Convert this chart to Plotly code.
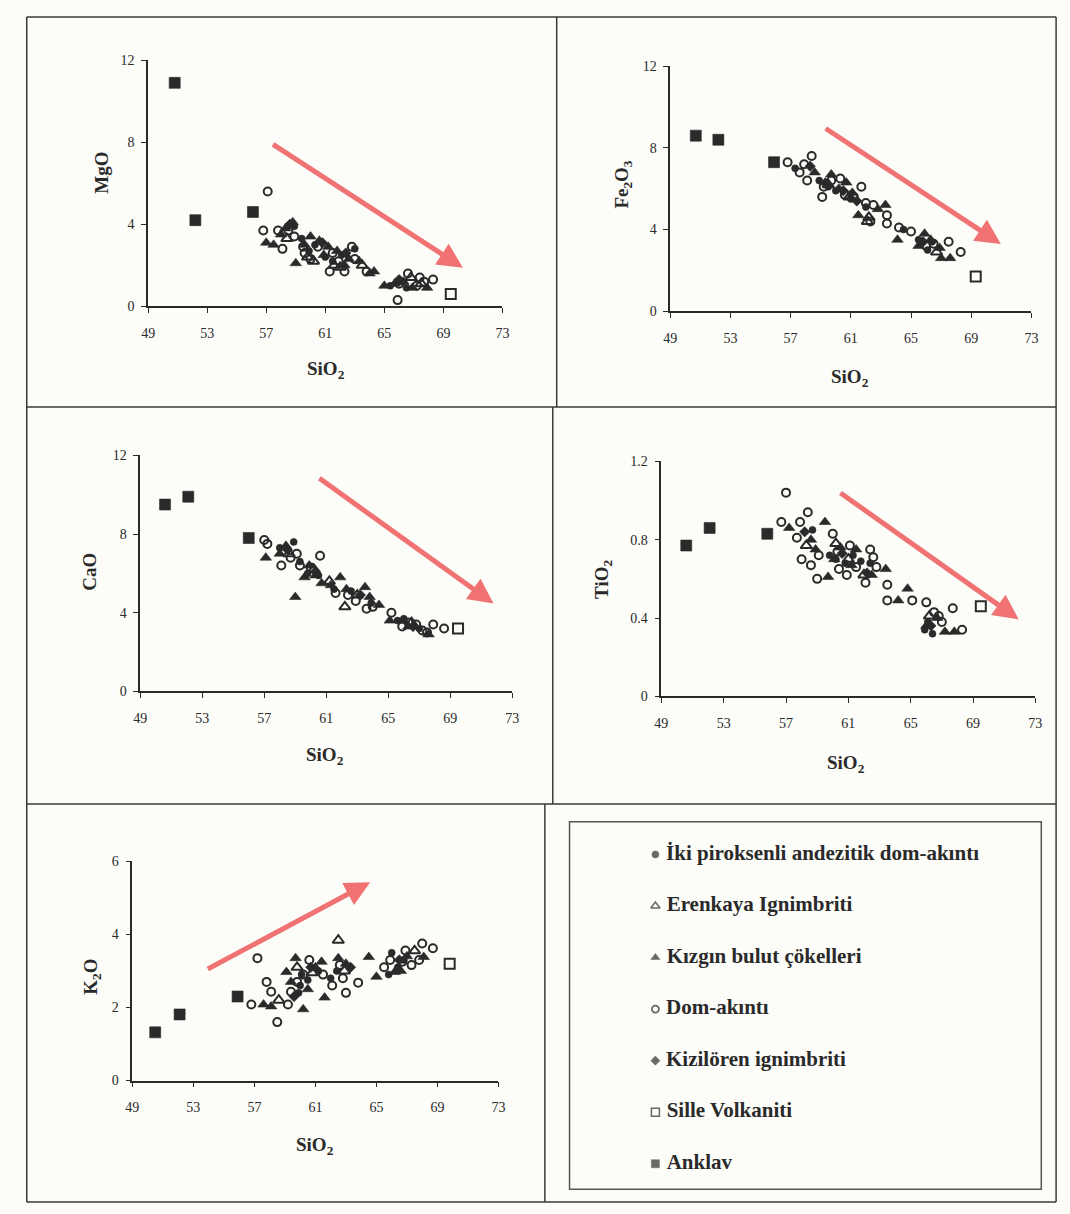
import plotly.graph_objects as go

W, H = 1070, 1214

SERIES = ["İki piroksenli andezitik dom-akıntı", "Erenkaya Ignimbriti", "Kızgın bulut çökelleri",
          "Dom-akıntı", "Kizilören ignimbriti", "Sille Volkaniti", "Anklav"]
SYMBOLS = ["circle", "triangle-up-open", "triangle-up", "circle-open", "diamond", "square-open", "square"]
SIZES = [7, 10, 10, 8, 8, 10, 11]

X_TICKS = [49, 53, 57, 61, 65, 69, 73]

# ---------------- MgO vs SiO2 ----------------
MGO_IKI = [(58.9, 3.9), (59.4, 3.3), (60.3, 3.0), (61.0, 2.4), (62.1, 2.5), (66.2, 1.2), (66.5, 0.9), (65.4, 1.0),
           (59.9, 2.7), (61.5, 2.2), (63.0, 2.8)]
MGO_EREN = [(59.8, 2.4), (61.6, 2.0), (62.0, 1.9), (63.5, 2.0), (66.8, 1.4), (67.5, 1.1), (58.4, 3.3), (60.2, 2.2)]
MGO_KIZGIN = [(57.0, 3.1), (57.5, 3.0), (59.0, 2.1), (60.0, 3.4), (61.2, 2.9), (62.6, 2.3), (63.3, 2.2), (64.3, 1.7),
              (65.0, 1.0), (65.7, 1.1), (66.9, 0.9), (67.9, 0.9), (58.8, 4.1), (58.3, 3.8), (60.6, 3.2), (61.8, 2.7),
              (58.0, 3.5), (59.6, 3.0), (60.9, 2.5), (62.3, 2.0), (64.0, 1.6), (66.3, 1.2)]
MGO_DOM = [(57.1, 5.6), (56.8, 3.7), (57.8, 3.7), (58.5, 3.7), (58.1, 2.8), (59.5, 2.9), (62.8, 2.9), (59.6, 2.6),
           (61.3, 1.7), (62.3, 1.7), (65.9, 0.3), (66.6, 1.6), (67.7, 1.2), (68.3, 1.3), (67.2, 1.0), (61.5, 2.6),
           (63.8, 1.7), (60.5, 2.9), (58.9, 3.4), (60.0, 2.3), (61.9, 2.2), (63.0, 2.3), (66.0, 1.1), (67.4, 1.4)]
MGO_KIZIL = [(58.6, 4.0), (60.8, 3.1), (62.4, 2.6), (66.0, 1.3)]
MGO_SILLE = [(69.5, 0.6)]
MGO_ANKLAV = [(50.8, 10.9), (52.2, 4.2), (56.1, 4.6)]

# ---------------- Fe2O3 vs SiO2 ----------------
FE_IKI = [(57.3, 7.0), (58.9, 6.4), (60.0, 5.9), (61.0, 5.5), (66.1, 3.0), (66.4, 3.4), (64.5, 4.0),
          (59.5, 6.1), (62.0, 5.1), (65.5, 3.5)]
FE_EREN = [(62.1, 4.4), (62.2, 4.6), (60.9, 5.6), (66.7, 2.9), (59.5, 6.2)]
FE_KIZGIN = [(61.5, 4.7), (64.1, 3.5), (63.3, 5.2), (59.7, 6.7), (60.7, 6.3), (65.9, 3.8), (67.0, 2.6), (67.6, 2.6),
             (65.5, 3.2), (58.6, 6.8), (59.3, 6.3), (60.2, 6.0), (61.1, 5.8), (62.8, 5.0), (66.3, 3.5), (66.9, 3.1)]
FE_DOM = [(56.8, 7.3), (58.4, 7.6), (57.6, 6.8), (58.1, 6.4), (59.1, 5.6), (60.3, 6.5), (61.7, 6.1), (62.5, 5.2),
          (63.4, 4.7), (63.4, 4.3), (62.3, 4.4), (65.0, 3.9), (67.5, 3.4), (68.3, 2.9), (66.5, 3.3), (59.2, 6.1),
          (61.2, 5.6), (57.9, 7.2), (59.7, 6.4), (60.6, 5.7), (62.0, 5.3), (64.2, 4.1), (66.0, 3.2)]
FE_KIZIL = [(58.3, 7.1), (60.5, 5.9), (61.4, 5.4), (65.8, 3.4)]
FE_SILLE = [(69.3, 1.7)]
FE_ANKLAV = [(50.7, 8.6), (52.2, 8.4), (55.9, 7.3)]

# ---------------- CaO vs SiO2 ----------------
CA_IKI = [(58.0, 7.3), (58.9, 7.6), (59.8, 6.0), (60.5, 5.9), (61.5, 5.2), (62.6, 5.1), (66.0, 3.7), (67.0, 3.2),
          (59.3, 6.6), (63.9, 4.5), (65.6, 3.6)]
CA_EREN = [(62.2, 4.3), (63.0, 4.9), (61.2, 5.6), (60.2, 6.2), (66.5, 3.5), (58.6, 7.0)]
CA_KIZGIN = [(57.1, 6.8), (59.0, 4.8), (59.6, 5.8), (60.7, 5.5), (61.9, 5.8), (63.5, 5.3), (64.4, 4.4), (65.1, 3.6),
             (66.3, 3.3), (67.6, 2.9), (58.4, 7.4), (59.9, 6.4), (58.0, 7.0), (60.3, 5.9), (61.3, 5.4), (62.3, 5.2),
             (63.8, 4.8), (66.0, 3.6)]
CA_DOM = [(57.0, 7.7), (57.2, 7.5), (58.1, 6.4), (59.1, 7.0), (60.6, 6.9), (62.4, 4.9), (63.6, 4.2), (65.2, 4.0),
          (66.8, 3.4), (67.9, 3.4), (68.6, 3.2), (65.9, 3.3), (59.3, 6.4), (62.9, 4.6), (67.2, 3.1),
          (58.7, 6.8), (60.0, 6.3), (61.6, 5.0), (64.0, 4.3), (66.3, 3.5), (67.5, 3.0)]
CA_KIZIL = [(58.5, 7.2), (60.3, 6.1), (63.2, 4.9), (66.6, 3.3)]
CA_SILLE = [(69.5, 3.2)]
CA_ANKLAV = [(50.6, 9.5), (52.1, 9.9), (56.0, 7.8)]

# ---------------- TiO2 vs SiO2 ----------------
TI_IKI = [(58.7, 0.85), (59.8, 0.72), (60.8, 0.68), (61.8, 0.69), (65.9, 0.34), (66.1, 0.38), (66.4, 0.32),
          (60.2, 0.70), (61.3, 0.72), (62.4, 0.68)]
TI_EREN = [(61.0, 0.70), (62.0, 0.62), (60.2, 0.78), (66.2, 0.41), (58.3, 0.77)]
TI_KIZGIN = [(59.5, 0.89), (58.6, 0.80), (59.7, 0.61), (63.4, 0.65), (64.8, 0.55), (64.2, 0.49), (67.2, 0.33),
             (67.8, 0.33), (61.5, 0.75), (57.2, 0.86), (60.5, 0.76), (58.9, 0.75), (60.1, 0.70), (61.2, 0.67),
             (62.5, 0.62), (66.0, 0.36), (66.7, 0.40)]
TI_DOM = [(57.0, 1.04), (56.7, 0.89), (58.4, 0.94), (57.9, 0.89), (57.7, 0.81), (58.0, 0.70), (59.0, 0.60),
          (60.0, 0.83), (62.4, 0.75), (62.6, 0.71), (62.1, 0.58), (63.5, 0.57), (63.5, 0.49), (65.1, 0.49),
          (66.0, 0.48), (67.7, 0.45), (68.3, 0.34), (67.0, 0.38), (66.5, 0.43), (59.1, 0.72), (60.4, 0.65),
          (61.5, 0.66), (58.6, 0.67), (60.3, 0.74), (61.1, 0.77), (62.8, 0.66), (66.8, 0.41), (60.9, 0.62)]
TI_KIZIL = [(58.2, 0.84), (60.6, 0.73), (62.2, 0.63), (66.3, 0.36)]
TI_SILLE = [(69.5, 0.46)]
TI_ANKLAV = [(50.6, 0.77), (52.1, 0.86), (55.8, 0.83)]

# ---------------- K2O vs SiO2 ----------------
K_IKI = [(60.1, 2.9), (60.5, 2.75), (60.0, 2.6), (61.2, 3.0), (65.8, 2.9), (66.4, 3.1), (66.0, 3.5), (62.0, 2.8),
         (59.9, 2.4), (62.4, 3.0), (66.8, 3.3)]
K_EREN = [(62.5, 3.84), (62.9, 3.0), (60.8, 2.95), (58.6, 2.2), (67.5, 3.55), (59.8, 3.1)]
K_KIZGIN = [(59.7, 3.35), (61.4, 3.25), (62.5, 3.35), (64.5, 3.38), (65.0, 2.84), (68.1, 3.38), (60.2, 1.95),
            (61.6, 2.27), (59.1, 2.97), (57.6, 2.08), (58.1, 2.03), (66.2, 2.97), (59.4, 2.7), (60.5, 2.5),
            (61.0, 3.1), (63.0, 3.2), (66.6, 3.0), (67.0, 3.4)]
K_DOM = [(57.2, 3.35), (56.8, 2.08), (58.5, 1.6), (57.8, 2.7), (58.1, 2.43), (59.2, 2.08), (59.4, 2.43),
         (60.2, 2.9), (62.6, 3.16), (62.8, 2.8), (63.8, 2.68), (65.5, 3.1), (66.9, 3.56), (68.0, 3.75),
         (68.7, 3.62), (67.3, 3.16), (66.7, 3.25), (62.1, 2.6), (59.8, 2.7), (60.6, 3.3), (61.5, 2.9),
         (63.0, 2.4), (65.9, 3.3), (67.8, 3.3)]
K_KIZIL = [(59.6, 2.3), (60.7, 3.1), (63.3, 3.1), (66.5, 3.3)]
K_SILLE = [(69.8, 3.2)]
K_ANKLAV = [(50.5, 1.32), (52.1, 1.81), (55.9, 2.3)]

# Trend arrows (tail SiO2, tail oxide, head SiO2, head oxide)
ARROW_MGO = (57.36, 7.95, 70.32, 1.88)
ARROW_FE = (59.23, 9.0, 70.97, 3.29)
ARROW_CA = (60.46, 10.89, 71.79, 4.47)
ARROW_TI = (60.40, 1.044, 71.93, 0.393)
ARROW_K = (53.85, 3.03, 64.59, 5.43)

PANELS = [
    dict(ax="", ylab="MgO", yr=[0, 12], yt=[0, 4, 8, 12], ytt=["0", "4", "8", "12"],
         data=[MGO_IKI, MGO_EREN, MGO_KIZGIN, MGO_DOM, MGO_KIZIL, MGO_SILLE, MGO_ANKLAV], arrow=ARROW_MGO,
         px=(143, 502, 54, 303), ylpos=(96, 168), xlpos=(323, 368)),
    dict(ax="2", ylab="Fe<sub>2</sub>O<sub>3</sub>", yr=[0, 12], yt=[0, 4, 8, 12], ytt=["0", "4", "8", "12"],
         data=[FE_IKI, FE_EREN, FE_KIZGIN, FE_DOM, FE_KIZIL, FE_SILLE, FE_ANKLAV], arrow=ARROW_FE,
         px=(672, 1038, 60, 308), ylpos=(624, 180), xlpos=(854, 376)),
    dict(ax="3", ylab="CaO", yr=[0, 12], yt=[0, 4, 8, 12], ytt=["0", "4", "8", "12"],
         data=[CA_IKI, CA_EREN, CA_KIZGIN, CA_DOM, CA_KIZIL, CA_SILLE, CA_ANKLAV], arrow=ARROW_CA,
         px=(135, 512, 454, 693), ylpos=(84, 572), xlpos=(322, 758)),
    dict(ax="4", ylab="TiO<sub>2</sub>", yr=[0, 1.2], yt=[0, 0.4, 0.8, 1.2], ytt=["0", "0.4", "0.8", "1.2"],
         data=[TI_IKI, TI_EREN, TI_KIZGIN, TI_DOM, TI_KIZIL, TI_SILLE, TI_ANKLAV], arrow=ARROW_TI,
         px=(663, 1042, 460, 698), ylpos=(604, 580), xlpos=(850, 766)),
    dict(ax="5", ylab="K<sub>2</sub>O", yr=[0, 6], yt=[0, 2, 4, 6], ytt=["0", "2", "4", "6"],
         data=[K_IKI, K_EREN, K_KIZGIN, K_DOM, K_KIZIL, K_SILLE, K_ANKLAV], arrow=ARROW_K,
         px=(127, 498, 865, 1087), ylpos=(86, 982), xlpos=(312, 1153)),
]

INK = "#2a2a2a"
BG = "#fcfcf8"
SERIF = "Liberation Serif, DejaVu Serif, serif"
ARROW_COLOR = "#f07272"


def px2x(p):
    return p / W


def px2y(p):
    return 1 - p / H


fig = go.Figure()
layout = dict(width=W, height=H, margin=dict(l=0, r=0, t=0, b=0), paper_bgcolor=BG, plot_bgcolor=BG,
              showlegend=False, font=dict(family=SERIF, color=INK))
annotations = []

for p in PANELS:
    ax = p["ax"]
    for i, pts in enumerate(p["data"]):
        sym = SYMBOLS[i]
        is_open = sym.endswith("open")
        fig.add_trace(go.Scatter(
            x=[a for a, b in pts], y=[b for a, b in pts], mode="markers", name=SERIES[i],
            xaxis="x" + ax, yaxis="y" + ax,
            marker=dict(symbol=sym, size=SIZES[i], color=INK,
                        line=dict(color=INK, width=2 if is_open else 0.6)),
        ))
    x0, x1, yt, yb = p["px"]
    common = dict(showgrid=False, zeroline=False, showline=True, linecolor=INK, linewidth=1.5,
                  ticks="outside", ticklen=5, tickwidth=1.2, tickcolor=INK,
                  tickfont=dict(family=SERIF, size=14, color=INK))
    layout["xaxis" + ax] = dict(common, domain=[px2x(x0), px2x(x1)], range=[49, 73], tickvals=X_TICKS,
                                anchor="y" + ax, ticklabelstandoff=8)
    layout["yaxis" + ax] = dict(common, domain=[px2y(yb), px2y(yt)], range=p["yr"], tickvals=p["yt"],
                                ticktext=p["ytt"], anchor="x" + ax, ticklabelstandoff=4)
    tx, ty, hx, hy = p["arrow"]
    annotations.append(dict(x=hx, y=hy, ax=tx, ay=ty, xref="x" + ax, yref="y" + ax, axref="x" + ax,
                            ayref="y" + ax, text="", showarrow=True, arrowhead=2, arrowsize=1,
                            arrowwidth=5, arrowcolor=ARROW_COLOR))
    lx, ly = p["ylpos"]
    annotations.append(dict(x=px2x(lx), y=px2y(ly), xref="paper", yref="paper", text="<b>" + p["ylab"] + "</b>",
                            xanchor="center", yanchor="middle",
                            showarrow=False, textangle=-90, font=dict(family=SERIF, size=19, color=INK)))
    sx, sy = p["xlpos"]
    annotations.append(dict(x=px2x(sx), y=px2y(sy), xref="paper", yref="paper", text="<b>SiO<sub>2</sub></b>",
                            xanchor="center", yanchor="middle",
                            showarrow=False, font=dict(family=SERIF, size=19, color=INK)))

# legend panel drawn on a hidden axis
LEG_ROWS = list(range(len(SERIES)))
fig.add_trace(go.Scatter(
    x=[0.182] * len(SERIES), y=LEG_ROWS, mode="markers+text", xaxis="x6", yaxis="y6",
    text=["<b>\u00a0" + s + "</b>" for s in SERIES], textposition="middle right",
    textfont=dict(family=SERIF, size=21, color=INK),
    marker=dict(symbol=SYMBOLS, size=[7, 8, 8, 7, 7, 8, 8], color=INK,
                line=dict(color=INK, width=[0.5, 1.5, 0.5, 1.8, 0.5, 1.5, 0.5])),
))
layout["xaxis6"] = dict(domain=[px2x(570), px2x(1048)], range=[0, 1], visible=False, anchor="y6")
layout["yaxis6"] = dict(domain=[px2y(1197), px2y(825)], range=[6.494, -0.632], visible=False, anchor="x6")

FRAME = [
    (20, 10, 1063, 10), (20, 10, 20, 1210), (1063, 10, 1063, 1210), (20, 1210, 1063, 1210),
    (557, 10, 557, 405), (553, 405, 553, 807), (545, 807, 545, 1210),
    (20, 405, 1063, 405), (20, 807, 1063, 807),
]
shapes = [dict(type="line", xref="paper", yref="paper", x0=px2x(a), y0=px2y(b), x1=px2x(c), y1=px2y(d),
               line=dict(color="#3a3a3a", width=1.5)) for a, b, c, d in FRAME]
shapes.append(dict(type="rect", xref="paper", yref="paper", x0=px2x(570), y0=px2y(1197), x1=px2x(1048),
                   y1=px2y(825), line=dict(color="#555555", width=1.5)))

layout["annotations"] = annotations
layout["shapes"] = shapes
fig.update_layout(**layout)
fig.write_html("out.html")
